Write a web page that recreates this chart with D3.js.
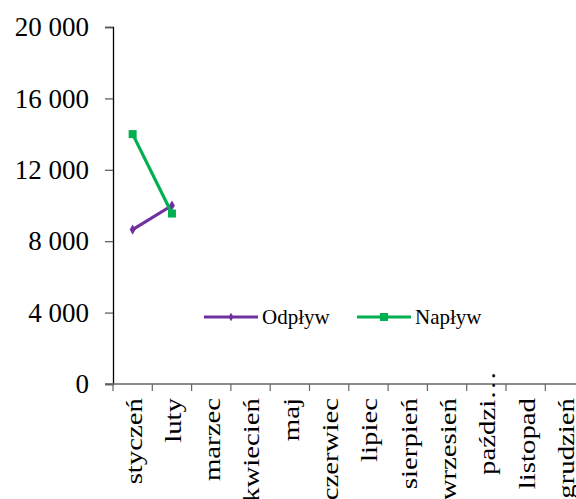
<!DOCTYPE html>
<html>
<head>
<meta charset="utf-8">
<script src="https://cdn.jsdelivr.net/npm/d3@7"></script>
<style>
  body { margin: 0; background: #fff; }
  text { font-family: "Liberation Serif", "Times New Roman", serif; fill: #000; }
</style>
</head>
<body>
<script>
const months = ["styczeń", "luty", "marzec", "kwiecień", "maj", "czerwiec", "lipiec",
                "sierpień", "wrzesień", "paździ…", "listopad", "grudzień"];
const odplyw = [8650, 10000];
const naplyw = [14000, 9550];
const yTicks = [0, 4000, 8000, 12000, 16000, 20000];

const width = 576, height = 499;
const plotLeft = 113, plotTop = 27, plotBottom = 384;

const svg = d3.select("body").append("svg")
  .attr("width", width)
  .attr("height", height);

const x = d3.scaleBand()
  .domain(months)
  .range([plotLeft, plotLeft + 12 * 39.3]);

const y = d3.scaleLinear()
  .domain([0, 20000])
  .range([plotBottom, plotTop]);

const fmt = d => d3.format(",")(d).replace(",", " ");

// y axis
const yAxis = svg.append("g")
  .attr("transform", `translate(${plotLeft},0)`)
  .call(d3.axisLeft(y).tickValues(yTicks).tickFormat(fmt).tickSizeOuter(0).tickSize(8).tickPadding(16));
yAxis.select(".domain").attr("stroke", "#000").attr("stroke-width", 1.3);
yAxis.selectAll(".tick line").attr("stroke", "#555").attr("stroke-width", 1.2);
yAxis.selectAll(".tick text")
  .style("font-family", "Liberation Serif")
  .style("font-size", "27px");

// x axis
const xg = svg.append("g").attr("transform", `translate(0,${plotBottom})`);
xg.append("line")
  .attr("x1", plotLeft - 8).attr("x2", width)
  .attr("stroke", "#666").attr("stroke-width", 1.3);
xg.selectAll("line.tk")
  .data(months)
  .enter().append("line")
  .attr("class", "tk")
  .attr("x1", d => x(d)).attr("x2", d => x(d))
  .attr("y1", 0).attr("y2", 7)
  .attr("stroke", "#666").attr("stroke-width", 1.2);
// labels are a bit stretched along their length in the original
xg.selectAll("text")
  .data(months)
  .enter().append("text")
  .attr("transform", d => `translate(${x(d) + x.bandwidth() / 2 + 1},${d === "paździ…" ? -13 : 14}) rotate(-90) scale(1.2,1)`)
  .attr("text-anchor", "end")
  .attr("dy", "0.33em")
  .style("font-size", "24px")
  .text(d => d);

const line = d3.line()
  .x((d, i) => x(months[i]) + x.bandwidth() / 2)
  .y(d => y(d));

// Odpływ
svg.append("path")
  .datum(odplyw)
  .attr("d", line)
  .attr("fill", "none")
  .attr("stroke", "#7030A0")
  .attr("stroke-width", 3.2);
svg.selectAll("path.dia")
  .data(odplyw)
  .enter().append("path")
  .attr("class", "dia")
  .attr("d", d3.symbol(d3.symbolDiamond, 30))
  .attr("transform", (d, i) => `translate(${x(months[i]) + x.bandwidth() / 2},${y(d)})`)
  .attr("fill", "#7030A0");

// Napływ
svg.append("path")
  .datum(naplyw)
  .attr("d", line)
  .attr("fill", "none")
  .attr("stroke", "#00B050")
  .attr("stroke-width", 3.2);
svg.selectAll("rect.sq")
  .data(naplyw)
  .enter().append("rect")
  .attr("class", "sq")
  .attr("x", (d, i) => x(months[i]) + x.bandwidth() / 2 - 4)
  .attr("y", d => y(d) - 4)
  .attr("width", 8).attr("height", 8)
  .attr("fill", "#00B050");

// legend
const leg = svg.append("g").attr("transform", "translate(0,317)");
leg.append("line").attr("x1", 204).attr("x2", 258)
  .attr("stroke", "#7030A0").attr("stroke-width", 3.2);
leg.append("path").attr("d", d3.symbol(d3.symbolDiamond, 22))
  .attr("transform", "translate(231,0)").attr("fill", "#7030A0");
leg.append("text").attr("x", 262).attr("dy", "0.33em")
  .style("font-size", "21px").text("Odpływ");

leg.append("line").attr("x1", 357).attr("x2", 411)
  .attr("stroke", "#00B050").attr("stroke-width", 3.2);
leg.append("rect").attr("x", 380).attr("y", -4).attr("width", 8).attr("height", 8)
  .attr("fill", "#00B050");
leg.append("text").attr("x", 415).attr("dy", "0.33em")
  .style("font-size", "21px").text("Napływ");
</script>
</body>
</html>
